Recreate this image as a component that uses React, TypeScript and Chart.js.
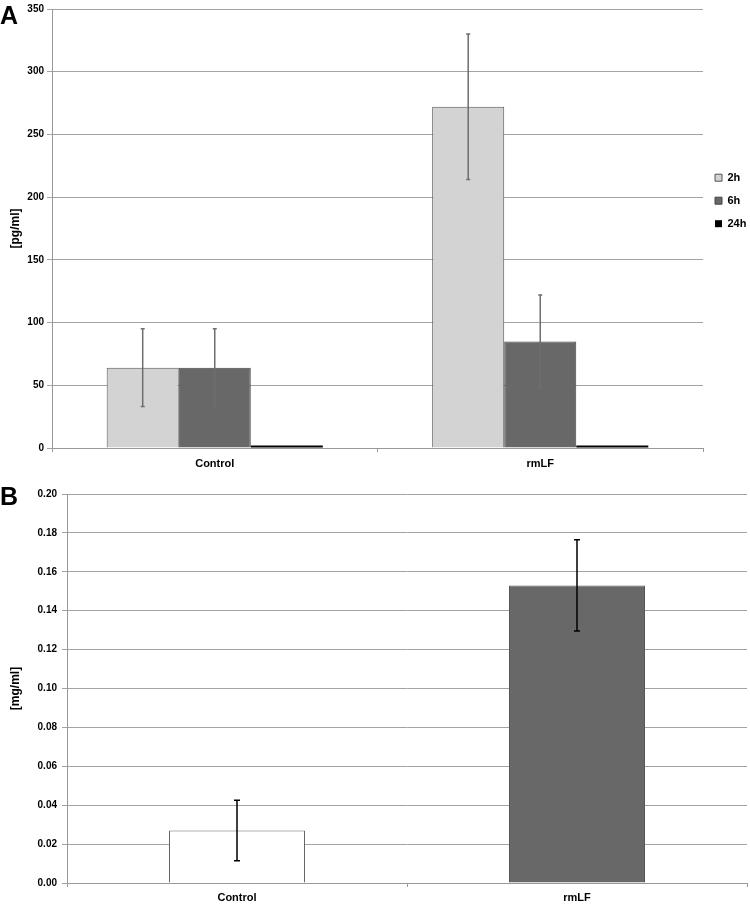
import React, { useEffect, useRef } from "react";
import { Chart, registerables } from "chart.js";

Chart.register(...registerables);

// ---------- data ----------
const categories = ["Control", "rmLF"];

// Panel A  [pg/ml]
const seriesNamesA = ["2h", "6h", "24h"];
const values2h = [64, 272];
const values6h = [64, 85];
const values24h = [2, 2];
const errors2h = [31, 58];
const errors6h = [31, 37];
const errors24h = [0, 0];
const yMaxA = 350;
const yStepA = 50;

// Panel B  [mg/ml]
const valuesB = [0.027, 0.153];
const errorsB = [0.0155, 0.0235];
const yMaxB = 0.2;
const yStepB = 0.02;

const FONT = "'Liberation Sans', Arial, Helvetica, sans-serif";

const errorBarPlugin = {
  id: "errorBars",
  afterDatasetsDraw(chart: any, _args: any, opts: any) {
    const ctx = chart.ctx;
    const yScale = chart.scales.y;
    const errs: number[][] = opts.errors || [];
    chart.data.datasets.forEach((ds: any, di: number) => {
      const e = errs[di];
      if (!e) return;
      const meta = chart.getDatasetMeta(di);
      meta.data.forEach((bar: any, i: number) => {
        if (!e[i]) return;
        const v = ds.data[i];
        const x = bar.x;
        const top = yScale.getPixelForValue(v + e[i]);
        const bot = yScale.getPixelForValue(v - e[i]);
        ctx.save();
        ctx.strokeStyle = opts.color;
        ctx.lineWidth = opts.width;
        ctx.beginPath();
        ctx.moveTo(x, top);
        ctx.lineTo(x, bot);
        ctx.moveTo(x - opts.cap, top);
        ctx.lineTo(x + opts.cap, top);
        ctx.moveTo(x - opts.cap, bot);
        ctx.lineTo(x + opts.cap, bot);
        ctx.stroke();
        ctx.restore();
      });
    });
  },
};

const panelLabelPlugin = {
  id: "panelLabel",
  afterDraw(chart: any, _args: any, opts: any) {
    const ctx = chart.ctx;
    ctx.save();
    ctx.fillStyle = "#000";
    ctx.font = `bold 25px ${FONT}`;
    ctx.textBaseline = "alphabetic";
    ctx.textAlign = "left";
    ctx.fillText(opts.text, opts.x, opts.y);
    ctx.restore();
  },
};

export default function App() {
  const refA = useRef<HTMLCanvasElement>(null);
  const refB = useRef<HTMLCanvasElement>(null);

  useEffect(() => {
    Chart.defaults.font.family = FONT;
    Chart.defaults.color = "#000";

    const chartA = new Chart(refA.current!, {
      type: "bar",
      data: {
        labels: categories,
        datasets: [
          {
            label: seriesNamesA[0],
            data: values2h,
            backgroundColor: "#d3d3d3",
            borderColor: "#555555",
            borderWidth: 1,
          },
          {
            label: seriesNamesA[1],
            data: values6h,
            backgroundColor: "#686868",
            borderColor: "#444444",
            borderWidth: 1,
          },
          {
            label: seriesNamesA[2],
            data: values24h,
            backgroundColor: "#000000",
            borderColor: "#000000",
            borderWidth: 0,
          },
        ],
      },
      options: {
        animation: false,
        responsive: false,
        maintainAspectRatio: false,
        layout: { padding: { top: 8, left: 0, right: 2, bottom: 0 } },
        datasets: { bar: { categoryPercentage: 0.664, barPercentage: 1 } },
        scales: {
          x: {
            afterFit: (s: any) => {
              s.height = 27;
            },
            grid: {
              offset: true,
              drawOnChartArea: false,
              drawTicks: true,
              tickLength: 4,
              color: "#999",
            },
            border: { color: "#999", width: 1 },
            ticks: { font: { size: 11, weight: "bold" }, color: "#000", padding: 5 },
          },
          y: {
            min: 0,
            max: yMaxA,
            afterFit: (s: any) => {
              s.width = 52;
            },
            ticks: {
              stepSize: yStepA,
              font: { size: 10, weight: "bold" },
              color: "#000",
              padding: 3,
            },
            grid: { color: "#a3a3a3", lineWidth: 1, tickLength: 5 },
            border: { color: "#999", width: 1 },
            title: {
              display: true,
              text: "[pg/ml]",
              font: { size: 12, weight: "bold" },
              color: "#000",
              padding: { top: 8, bottom: 0 },
            },
          },
        },
        plugins: {
          legend: {
            display: true,
            position: "right",
            align: "start",
            fullSize: false,
            maxWidth: 45,
            title: {
              display: true,
              text: "",
              font: { size: 11 },
              padding: { top: 138, bottom: 0 },
            },
            labels: {
              boxWidth: 7,
              boxHeight: 7,
              padding: 12,
              font: { size: 11, weight: "bold" },
              color: "#000",
            },
          },
          tooltip: { enabled: false },
          errorBars: {
            errors: [errors2h, errors6h, errors24h],
            color: "#6e6e6e",
            width: 1.5,
            cap: 2,
          },
          panelLabel: { text: "A", x: 0, y: 24 },
        } as any,
      },
      plugins: [errorBarPlugin, panelLabelPlugin],
    });

    const chartB = new Chart(refB.current!, {
      type: "bar",
      data: {
        labels: categories,
        datasets: [
          {
            label: "[mg/ml]",
            data: valuesB,
            backgroundColor: ["#ffffff", "#686868"],
            borderColor: ["#666666", "#555555"],
            borderWidth: 1,
          },
        ],
      },
      options: {
        animation: false,
        responsive: false,
        maintainAspectRatio: false,
        layout: { padding: { top: 19, left: 0, right: 3, bottom: 0 } },
        datasets: { bar: { categoryPercentage: 0.4, barPercentage: 1 } },
        scales: {
          x: {
            afterFit: (s: any) => {
              s.height = 23;
            },
            grid: {
              offset: true,
              drawOnChartArea: false,
              drawTicks: true,
              tickLength: 4,
              color: "#999",
            },
            border: { color: "#999", width: 1 },
            ticks: { font: { size: 11, weight: "bold" }, color: "#000", padding: 4 },
          },
          y: {
            min: 0,
            max: yMaxB,
            afterFit: (s: any) => {
              s.width = 67;
            },
            ticks: {
              stepSize: yStepB,
              font: { size: 10, weight: "bold" },
              color: "#000",
              padding: 5,
              callback: (v: any) => Number(v).toFixed(2),
            },
            grid: { color: "#a3a3a3", lineWidth: 1, tickLength: 5 },
            border: { color: "#999", width: 1 },
            title: {
              display: true,
              text: "[mg/ml]",
              font: { size: 12, weight: "bold" },
              color: "#000",
              padding: { top: 8, bottom: 0 },
            },
          },
        },
        plugins: {
          legend: { display: false },
          tooltip: { enabled: false },
          errorBars: {
            errors: [errorsB],
            color: "#000",
            width: 1.5,
            cap: 3,
          },
          panelLabel: { text: "B", x: 0, y: 30 },
        } as any,
      },
      plugins: [errorBarPlugin, panelLabelPlugin],
    });

    return () => {
      chartA.destroy();
      chartB.destroy();
    };
  }, []);

  return (
    <div
      style={{
        position: "absolute",
        left: 0,
        top: 0,
        width: 750,
        height: 906,
        background: "#fff",
      }}
    >
      <canvas
        ref={refA}
        width={750}
        height={475}
        style={{ position: "absolute", left: 0, top: 0, width: 750, height: 475 }}
      />
      <canvas
        ref={refB}
        width={750}
        height={431}
        style={{ position: "absolute", left: 0, top: 475, width: 750, height: 431 }}
      />
    </div>
  );
}
